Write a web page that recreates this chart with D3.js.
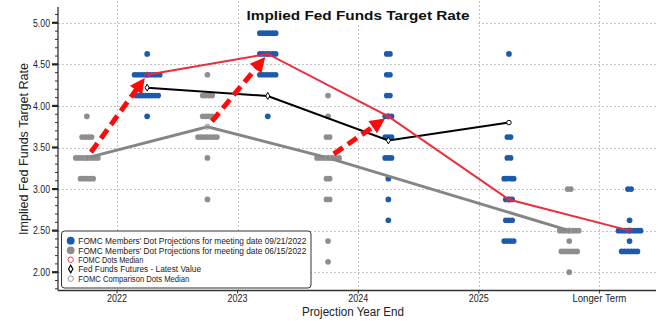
<!DOCTYPE html>
<html><head><meta charset="utf-8">
<script src="https://cdn.jsdelivr.net/npm/d3@7"></script>
<style>body{margin:0;background:#fff}svg{display:block}</style>
</head><body>
<svg id="chart" width="664" height="321"></svg>
<script>
// ---------------- data ----------------
const categories = ["2022", "2023", "2024", "2025", "Longer Term"];
const yTicks = [2.0, 2.5, 3.0, 3.5, 4.0, 4.5, 5.0];

// [category, rate, number of dots]  — meeting 09/21/2022
const dotsSep = [
  ["2022", 4.625, 1], ["2022", 4.375, 9], ["2022", 4.125, 8], ["2022", 3.875, 1],
  ["2023", 4.875, 6], ["2023", 4.625, 6], ["2023", 4.375, 6], ["2023", 3.875, 1],
  ["2024", 4.625, 2], ["2024", 4.375, 2], ["2024", 4.125, 2], ["2024", 3.875, 3], ["2024", 3.625, 3],
  ["2024", 3.375, 3], ["2024", 3.125, 1], ["2024", 2.875, 1], ["2024", 2.625, 1],
  ["2025", 4.625, 1], ["2025", 3.625, 2], ["2025", 3.375, 2], ["2025", 3.125, 4], ["2025", 2.875, 3],
  ["2025", 2.625, 3], ["2025", 2.375, 4],
  ["Longer Term", 3.0, 2], ["Longer Term", 2.625, 1], ["Longer Term", 2.5, 8],
  ["Longer Term", 2.375, 1], ["Longer Term", 2.25, 6]
];
// meeting 06/15/2022
const dotsJun = [
  ["2022", 3.875, 1], ["2022", 3.625, 4], ["2022", 3.375, 8], ["2022", 3.125, 5],
  ["2023", 4.375, 1], ["2023", 4.125, 4], ["2023", 3.875, 4], ["2023", 3.625, 7], ["2023", 3.375, 1], ["2023", 2.875, 1],
  ["2024", 4.125, 1], ["2024", 3.875, 1], ["2024", 3.625, 2], ["2024", 3.375, 8], ["2024", 3.125, 2],
  ["2024", 2.875, 2], ["2024", 2.375, 1], ["2024", 2.125, 1],
  ["Longer Term", 3.0, 2], ["Longer Term", 2.5, 7], ["Longer Term", 2.375, 1], ["Longer Term", 2.25, 6], ["Longer Term", 2.0, 1]
];

const medianSepCats = ["2022", "2023", "2024", "2025", "Longer Term"];
const medianSep = [4.375, 4.625, 3.875, 2.875, 2.5];
const medianJunCats = ["2022", "2023", "2024", "Longer Term"];
const medianJun = [3.375, 3.75, 3.375, 2.5];
const futuresCats = ["2022", "2023", "2024", "2025"];
const futures = [4.22, 4.12, 3.585, 3.80];
const arrowCats = ["2022", "2023", "2024"];   // shift: Jun median -> Sep median

const legendLabels = [
  "FOMC Members' Dot Projections for meeting date 09/21/2022",
  "FOMC Members' Dot Projections for meeting date 06/15/2022",
  "FOMC Dots Median",
  "Fed Funds Futures - Latest Value",
  "FOMC Comparison Dots Median"
];

// ---------------- setup ----------------
const BLUE = "#1c5bab", GRAY = "#8e8e8e", RED = "#ee2b3b", ARROW = "#ff0a0a";
const FONT = "'Liberation Sans Narrow','Liberation Sans',Arial,sans-serif";
const svg = d3.select("#chart");
const plot = {left: 58, right: 656, top: 7, bottom: 290.5};
const x = d3.scaleBand().domain(categories).range([56.7, 659.7]);
const cx = c => x(c) + x.bandwidth() / 2;
const off = x.bandwidth() * 0.25;
const y = d3.scaleLinear().domain([1.78, 5.19]).range([plot.bottom, plot.top]);

// grid
const grid = svg.append("g").attr("stroke", "#c4c4c4").attr("stroke-dasharray", "2,2").attr("stroke-width", 1);
grid.selectAll("line.h").data(yTicks).join("line")
  .attr("x1", plot.left).attr("x2", plot.right)
  .attr("y1", d => Math.round(y(d)) + 0.5).attr("y2", d => Math.round(y(d)) + 0.5);
grid.selectAll("line.v").data(categories).join("line")
  .attr("x1", d => Math.round(cx(d)) + 0.5).attr("x2", d => Math.round(cx(d)) + 0.5)
  .attr("y1", 1).attr("y2", plot.bottom);

// title box
svg.append("rect").attr("x", 240).attr("y", 0).attr("width", 238).attr("height", 25).attr("fill", "#fff");
svg.append("text").attr("x", 358).attr("y", 20).attr("text-anchor", "middle")
  .attr("font-family", "'Liberation Sans',Arial,sans-serif").attr("font-weight", "bold")
  .attr("font-size", 12.5).attr("fill", "#111")
  .attr("textLength", 223).attr("lengthAdjust", "spacingAndGlyphs")
  .text("Implied Fed Funds Target Rate");

// dots
function expand(rows, dx) {
  const out = [];
  rows.forEach(([c, r, n]) => {
    for (let j = 0; j < n; j++) out.push({c, r, k: j - (n - 1) / 2, dx});
  });
  return out;
}
const SP = 3.15, R = 2.85;
svg.append("g").selectAll("circle").data(expand(dotsJun, -off)).join("circle")
  .attr("cx", d => cx(d.c) + d.dx + d.k * SP).attr("cy", d => y(d.r)).attr("r", R).attr("fill", GRAY);
svg.append("g").selectAll("circle").data(expand(dotsSep, off)).join("circle")
  .attr("cx", d => cx(d.c) + d.dx + d.k * SP).attr("cy", d => y(d.r)).attr("r", R).attr("fill", BLUE);

// lines
const line = d3.line().x(d => d[0]).y(d => d[1]);
const junPts = medianJunCats.map((c, i) => [cx(c) - off, y(medianJun[i])]);
const sepPts = medianSepCats.map((c, i) => [cx(c) + off, y(medianSep[i])]);
const futPts = futuresCats.map((c, i) => [cx(c) + off, y(futures[i])]);
svg.append("path").attr("d", line(junPts)).attr("fill", "none").attr("stroke", "#858585").attr("stroke-width", 3);
svg.append("path").attr("d", line(futPts)).attr("fill", "none").attr("stroke", "#000").attr("stroke-width", 2);
svg.append("path").attr("d", line(sepPts)).attr("fill", "none").attr("stroke", RED).attr("stroke-width", 2);

// markers
svg.append("g").selectAll("circle").data(sepPts).join("circle")
  .attr("cx", d => d[0]).attr("cy", d => d[1]).attr("r", 2.6)
  .attr("fill", "none").attr("stroke", "#c0306a").attr("stroke-width", 1);
svg.append("g").selectAll("circle").data(junPts).join("circle")
  .attr("cx", d => d[0]).attr("cy", d => d[1]).attr("r", 2.6)
  .attr("fill", "none").attr("stroke", "#9a9a9a").attr("stroke-width", 1);
svg.append("g").selectAll("path").data(futPts).join("path")
  .attr("transform", d => `translate(${d[0]},${d[1]})`)
  .attr("d", (d, i) => d3.symbol().type(i === futPts.length - 1 ? d3.symbolCircle : d3.symbolDiamond).size(i === futPts.length - 1 ? 16 : 14)())
  .attr("fill", "#fff").attr("stroke", "#000").attr("stroke-width", 1);

// arrows (Jun median -> Sep median)
const ag = svg.append("g");
arrowCats.forEach(c => {
  const x0 = cx(c) - off, y0 = y(medianJun[medianJunCats.indexOf(c)]);
  const x1 = cx(c) + off, y1 = y(medianSep[medianSepCats.indexOf(c)]);
  const L = Math.hypot(x1 - x0, y1 - y0), ux = (x1 - x0) / L, uy = (y1 - y0) / L;
  const sx = x0 + ux * 7, sy = y0 + uy * 7;
  const tx = x1 - ux * 4, ty = y1 - uy * 4;
  const head = 15, hw = 7.5;
  const bx = tx - ux * head, by = ty - uy * head;
  ag.append("line").attr("x1", sx).attr("y1", sy).attr("x2", bx + ux * 2).attr("y2", by + uy * 2)
    .attr("stroke", ARROW).attr("stroke-width", 5).attr("stroke-dasharray", "11,6");
  ag.append("path").attr("d", `M${tx},${ty}L${bx - uy * hw},${by + ux * hw}L${bx + uy * hw},${by - ux * hw}Z`)
    .attr("fill", ARROW);
});

// axes
svg.append("line").attr("x1", plot.left).attr("x2", plot.left).attr("y1", plot.top).attr("y2", plot.bottom)
  .attr("stroke", "#333").attr("stroke-width", 1.3);
svg.append("line").attr("x1", plot.left).attr("x2", plot.right).attr("y1", plot.bottom).attr("y2", plot.bottom)
  .attr("stroke", "#333").attr("stroke-width", 1.3);
const minor = d3.range(1.8, 5.19, 0.1);
svg.append("g").selectAll("line").data(minor).join("line")
  .attr("x1", plot.left - 3).attr("x2", plot.left).attr("y1", d => y(d)).attr("y2", d => y(d))
  .attr("stroke", "#333").attr("stroke-width", 1);
svg.append("g").selectAll("line").data(yTicks).join("line")
  .attr("x1", plot.left - 6).attr("x2", plot.left).attr("y1", d => y(d)).attr("y2", d => y(d))
  .attr("stroke", "#222").attr("stroke-width", 2.2);
svg.append("g").selectAll("text").data(yTicks).join("text")
  .attr("x", 50).attr("y", d => y(d) + 3.8).attr("text-anchor", "end")
  .attr("font-family", FONT).attr("font-size", 11).attr("fill", "#222")
  .attr("textLength", 17).attr("lengthAdjust", "spacingAndGlyphs")
  .text(d => d3.format(".2f")(d));
svg.append("g").selectAll("line").data(categories).join("line")
  .attr("x1", d => cx(d)).attr("x2", d => cx(d)).attr("y1", plot.bottom).attr("y2", plot.bottom + 3)
  .attr("stroke", "#333").attr("stroke-width", 1);
svg.append("g").selectAll("text").data(categories).join("text")
  .attr("x", d => cx(d)).attr("y", 302).attr("text-anchor", "middle")
  .attr("font-family", FONT).attr("font-size", 10.5).attr("fill", "#222")
  .attr("textLength", d => d.length > 4 ? 54 : 20).attr("lengthAdjust", "spacingAndGlyphs")
  .text(d => d);

svg.append("text").attr("x", 353).attr("y", 316).attr("text-anchor", "middle")
  .attr("font-family", "'Liberation Sans',Arial,sans-serif").attr("font-size", 12.5).attr("fill", "#222")
  .attr("textLength", 102).attr("lengthAdjust", "spacingAndGlyphs")
  .text("Projection Year End");
svg.append("text").attr("transform", "translate(28,149) rotate(-90)").attr("text-anchor", "middle")
  .attr("font-family", "'Liberation Sans',Arial,sans-serif").attr("font-size", 13).attr("fill", "#222")
  .attr("textLength", 172).attr("lengthAdjust", "spacingAndGlyphs")
  .text("Implied Fed Funds Target Rate");

// legend
const lg = svg.append("g");
lg.append("rect").attr("x", 61.5).attr("y", 231).attr("width", 249.5).attr("height", 57).attr("rx", 3)
  .attr("fill", "#fff").attr("stroke", "#333").attr("stroke-width", 1);
const ly = [240.7, 250.3, 259.7, 269, 278.7];
const lw = [228, 228, 65, 122.7, 111];
lg.append("circle").attr("cx", 70.7).attr("cy", ly[0]).attr("r", 3.9).attr("fill", BLUE);
lg.append("circle").attr("cx", 70.7).attr("cy", ly[1]).attr("r", 3.9).attr("fill", GRAY);
lg.append("circle").attr("cx", 70.7).attr("cy", ly[2]).attr("r", 2.7).attr("fill", "none").attr("stroke", "#e04050").attr("stroke-width", 1);
lg.append("path").attr("transform", `translate(70.7,${ly[3]})`).attr("d", d3.symbol().type(d3.symbolDiamond).size(16)())
  .attr("fill", "#fff").attr("stroke", "#000").attr("stroke-width", 1.2);
lg.append("circle").attr("cx", 70.7).attr("cy", ly[4]).attr("r", 2.7).attr("fill", "none").attr("stroke", "#999").attr("stroke-width", 1);
lg.selectAll("text").data(legendLabels).join("text")
  .attr("x", 78.3).attr("y", (d, i) => ly[i] + 3.2)
  .attr("font-family", FONT).attr("font-size", 9.2).attr("fill", "#222")
  .attr("textLength", (d, i) => lw[i]).attr("lengthAdjust", "spacingAndGlyphs")
  .text(d => d);
</script>
</body></html>
